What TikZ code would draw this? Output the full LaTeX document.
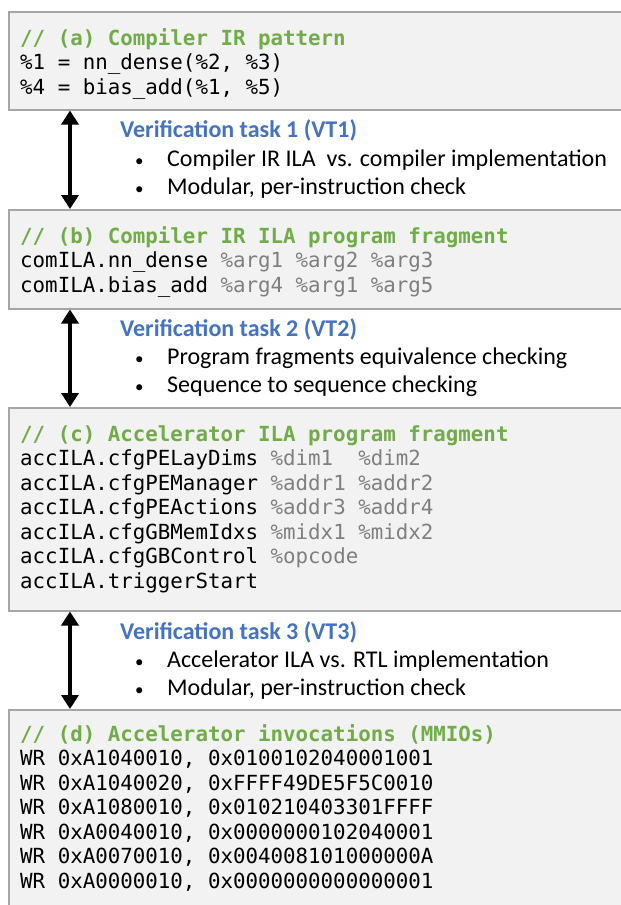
\documentclass[tikz,border=0pt]{standalone}
\usepackage{fontspec}
\setmainfont{Carlito}
\setsansfont{Carlito}
\setmonofont{DejaVu Sans Mono}
\usetikzlibrary{arrows.meta}
\definecolor{cmtgreen}{HTML}{70AD47}
\definecolor{taskblue}{HTML}{4472C4}
\definecolor{arggray}{HTML}{7F7F7F}
\definecolor{boxfill}{HTML}{F2F2F2}
\definecolor{boxline}{HTML}{A6A6A6}
\newcommand{\cmt}[1]{\textcolor{cmtgreen}{\bfseries #1}}
\newcommand{\opnd}[1]{\textcolor{arggray}{#1}}
\newcommand{\bul}{\makebox[32pt][l]{\fontsize{17}{20}\selectfont\textbullet}}
\begin{document}
\begin{tikzpicture}[x=1pt, y=-1pt,
	codebox/.style={draw=boxline, line width=1.5pt, fill=boxfill, anchor=north west, minimum width=640pt, inner sep=0pt},
	code/.style={anchor=north west, align=left, inner sep=0pt, font=\fontsize{20.8}{24.5}\selectfont\ttfamily},
	tasktitle/.style={anchor=west, inner sep=0pt, text=taskblue, font=\fontsize{24}{28}\selectfont\bfseries},
	taskitem/.style={anchor=west, inner sep=0pt, font=\fontsize{24}{28}\selectfont},
	vtarrow/.style={{Triangle[length=14pt,width=17pt]}-{Triangle[length=14pt,width=17pt]}, line width=4pt}]
	\useasboundingbox (0,0) rectangle (621,905);
	\clip (0,0) rectangle (621,905);
	\fill [white] (0,0) rectangle (621,905);
	\coordinate (axis) at (70,0);
	% (a) compiler IR pattern
	\node [codebox, minimum height=98pt] (irpat) at (8,11) {};
	\node [code] (irpattxt) at (20,28) {\cmt{// (a) Compiler IR pattern}\\
		\%1 = nn\_dense(\%2, \%3)\\
		\%4 = bias\_add(\%1, \%5)};
	% (b) compiler IR ILA fragment
	\node [codebox, minimum height=99pt] (comila) at (8,209) {};
	\node [code] (comilatxt) at (20,226) {\cmt{// (b) Compiler IR ILA program fragment}\\
		comILA.nn\_dense \opnd{\%arg1 \%arg2 \%arg3}\\
		comILA.bias\_add \opnd{\%arg4 \%arg1 \%arg5}};
	% (c) accelerator ILA fragment
	\node [codebox, minimum height=203pt] (accila) at (8,407) {};
	\node [code] (accilatxt) at (20,425) {\cmt{// (c) Accelerator ILA program fragment}\\
		accILA.cfgPELayDims \opnd{\%dim1\ \ \%dim2}\\
		accILA.cfgPEManager \opnd{\%addr1 \%addr2}\\
		accILA.cfgPEActions \opnd{\%addr3 \%addr4}\\
		accILA.cfgGBMemIdxs \opnd{\%midx1 \%midx2}\\
		accILA.cfgGBControl \opnd{\%opcode}\\
		accILA.triggerStart};
	% (d) MMIO invocations
	\node [codebox, minimum height=220pt] (mmio) at (8,709) {};
	\node [code] (mmiotxt) at (20,724) {\cmt{// (d) Accelerator invocations (MMIOs)}\\
		WR 0xA1040010, 0x0100102040001001\\
		WR 0xA1040020, 0xFFFF49DE5F5C0010\\
		WR 0xA1080010, 0x010210403301FFFF\\
		WR 0xA0040010, 0x0000000102040001\\
		WR 0xA0070010, 0x004008101000000A\\
		WR 0xA0000010, 0x0000000000000001};
	% verification tasks
	\draw [vtarrow] (irpat.south -| axis) -- (comila.north -| axis);
	\node [tasktitle] (vt1) at (120,130) {Verification task 1 (VT1)};
	\node [taskitem] (vt1a) at (135,160) {\bul Compiler IR ILA\ \ vs. compiler implementation};
	\node [taskitem] (vt1b) at (135,188) {\bul Modular, per-instruction check};
	\draw [vtarrow] (comila.south -| axis) -- (accila.north -| axis);
	\node [tasktitle] (vt2) at (120,329) {Verification task 2 (VT2)};
	\node [taskitem] (vt2a) at (135,358) {\bul Program fragments equivalence checking};
	\node [taskitem] (vt2b) at (135,386) {\bul Sequence to sequence checking};
	\draw [vtarrow] (accila.south -| axis) -- (mmio.north -| axis);
	\node [tasktitle] (vt3) at (120,632) {Verification task 3 (VT3)};
	\node [taskitem] (vt3a) at (135,661) {\bul Accelerator ILA vs. RTL implementation};
	\node [taskitem] (vt3b) at (135,689) {\bul Modular, per-instruction check};
\end{tikzpicture}
\end{document}
